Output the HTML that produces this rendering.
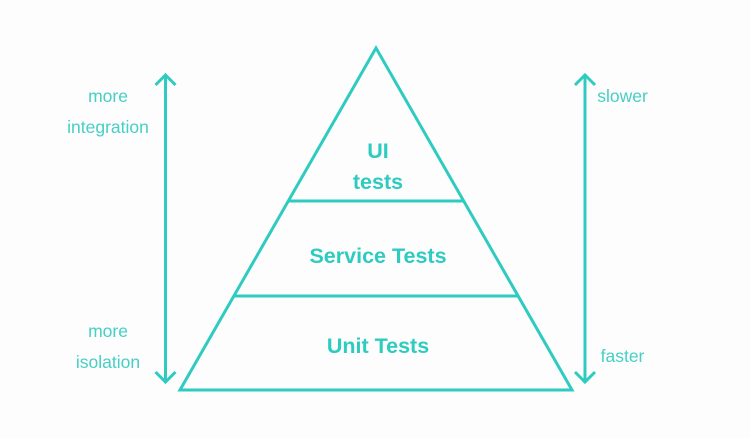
<!DOCTYPE html>
<html>
<head>
<meta charset="utf-8">
<style>
  html, body { margin: 0; padding: 0; background: #fdfdfd; }
  body { width: 750px; height: 438px; overflow: hidden; }
  svg { display: block; }
  .b { font-family: "Liberation Sans", sans-serif; font-weight: bold; font-size: 21.5px; fill: #2ecbc1; }
  .s { font-family: "Liberation Sans", sans-serif; font-size: 17.5px; fill: #45cfc5; }
</style>
</head>
<body>
<svg width="750" height="438" viewBox="0 0 750 438" xmlns="http://www.w3.org/2000/svg">
  <rect width="750" height="438" fill="#fdfdfd"/>
  <g fill="none" stroke="#2ecbc1" stroke-width="3" stroke-linejoin="miter">
    <!-- pyramid -->
    <polygon points="376,48 180,390 572,390"/>
    <line x1="288.5" y1="201" x2="463.5" y2="201"/>
    <line x1="234.5" y1="296" x2="517.5" y2="296"/>
    <!-- left arrow -->
    <line x1="165.5" y1="75" x2="165.5" y2="382"/>
    <polyline points="155.5,85 165.5,75 175.5,85"/>
    <polyline points="155.5,372 165.5,382 175.5,372"/>
    <!-- right arrow -->
    <line x1="585" y1="75" x2="585" y2="382"/>
    <polyline points="575,85 585,75 595,85"/>
    <polyline points="575,372 585,382 595,372"/>
  </g>
  <text class="b" x="378" y="158" text-anchor="middle">UI</text>
  <text class="b" x="378" y="189" text-anchor="middle">tests</text>
  <text class="b" x="378" y="263" text-anchor="middle">Service Tests</text>
  <text class="b" x="378" y="353" text-anchor="middle">Unit Tests</text>

  <text class="s" x="108" y="102" text-anchor="middle">more</text>
  <text class="s" x="108" y="133" text-anchor="middle">integration</text>
  <text class="s" x="108" y="337" text-anchor="middle">more</text>
  <text class="s" x="108" y="368" text-anchor="middle">isolation</text>

  <text class="s" x="622.5" y="102" text-anchor="middle">slower</text>
  <text class="s" x="622.5" y="362" text-anchor="middle">faster</text>
</svg>
</body>
</html>
